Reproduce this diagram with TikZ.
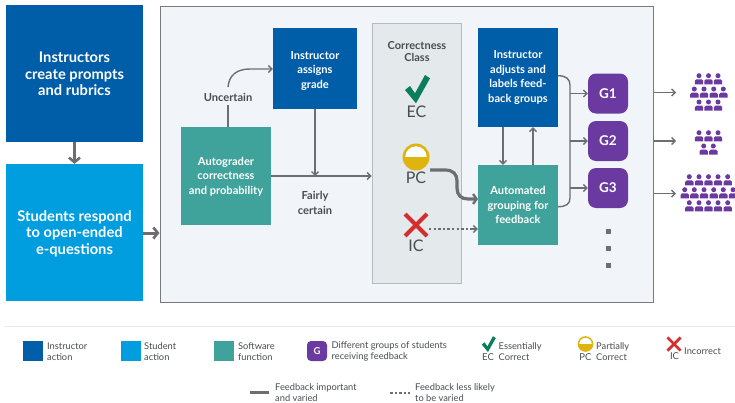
\documentclass[tikz,border=0pt]{standalone}
\usepackage{fontspec}
\setmainfont{Lato}
\usetikzlibrary{arrows.meta,calc}
\definecolor{instr}{HTML}{005EA8}
\definecolor{stud}{HTML}{009DDF}
\definecolor{soft}{HTML}{3FA39B}
\definecolor{grp}{HTML}{6A3AA0}
\definecolor{conn}{HTML}{6D6E71}
\definecolor{txt}{HTML}{4A4D50}
\definecolor{panelfill}{HTML}{F1F5F9}
\definecolor{panelline}{HTML}{77797B}
\definecolor{classfill}{HTML}{E4E9EC}
\definecolor{classline}{HTML}{B4BBBD}
\definecolor{okgreen}{HTML}{0A7D5C}
\definecolor{badred}{HTML}{D42F2F}
\definecolor{partyellow}{HTML}{E0B40E}
\newcommand{\lowerlines}[2]{\raisebox{-#1pt}[0pt][0pt]{\begin{tabular}{@{}c@{}}#2\end{tabular}}}
\tikzset{
  x=1pt,y=-1pt,
  box/.style={inner sep=0pt,align=center,text=white,font=\bfseries\fontsize{11.1}{14.6}\selectfont},
  bigbox/.style={box,minimum width=137pt,minimum height=137pt,font=\bfseries\fontsize{14.7}{16.8}\selectfont},
  groupbox/.style={inner sep=0pt,fill=grp,text=white,rounded corners=8pt,minimum width=40pt,minimum height=40pt,font=\bfseries\fontsize{13.5}{16}\selectfont},
  flow/.style={draw=conn,line width=1.4pt,-{Straight Barb[length=3.5pt,width=7pt,line width=1.4pt]}},
  plain/.style={draw=conn,line width=1.4pt},
  heavy/.style={draw=conn,line width=3pt,-{Straight Barb[length=4.5pt,width=11pt,line width=2.6pt]}},
  dots/.style={draw=conn,line width=1.6pt,dash pattern=on 2.4pt off 2.2pt},
  lbl/.style={inner sep=0pt,align=center,text=txt,font=\bfseries\fontsize{11.1}{14.6}\selectfont},
  cls/.style={inner sep=0pt,text=txt,font=\fontsize{16}{17}\selectfont},
  leg/.style={inner sep=0pt,align=left,anchor=west,text=txt,font=\fontsize{9.3}{10.6}\selectfont},
  legclass/.style={inner sep=0pt,text=txt,font=\fontsize{9.5}{10.6}\selectfont},
  swatch/.style={inner sep=0pt,minimum width=20pt,minimum height=20pt},
  person/.pic={
    \fill[grp] (0,0) circle (2.5);
    \fill[grp] (-4.2,8.6) [rounded corners=1.6pt] -- (-4.2,3.6) -- (4.2,3.6) [sharp corners] -- (4.2,8.6) -- cycle;
  },
  checksym/.pic={
    \fill[okgreen] (-12,1) -- (-7,-3) -- (-2,4.3) -- (8,-14) -- (13,-10.7) -- (-1,14.3) -- cycle;
  },
  partsym/.pic={
    \fill[partyellow] (0,0) circle (13.5);
    \begin{scope}
      \clip (-14,-14) rectangle (14,-0.5);
      \fill[white] (0,0) circle (10.7);
    \end{scope}
  },
  crosssym/.pic={
    \draw[badred,line cap=butt] (-11,-11) -- (11,11) (11,-11) -- (-11,11);
  },
}
\begin{document}
\begin{tikzpicture}
\useasboundingbox (0,0) rectangle (735,402);
\fill[white] (0,0) rectangle (735,402);

% left boxes
\node[bigbox,fill=instr] (prompts) at (74.5,73.5) {\lowerlines{6.2}{Instructors\\[-0.3pt]create prompts\\[-0.3pt]and rubrics}};
\node[bigbox,fill=stud] (respond) at (74.5,232.5) {\lowerlines{5.6}{Students respond\\[-0.3pt]to open-ended\\[-0.3pt]e-questions}};

% panel
\node[draw=panelline,fill=panelfill,line width=1pt,minimum width=493pt,minimum height=296pt,inner sep=0pt] (panel) at (406.5,154) {};
\node[draw=classline,fill=classfill,line width=1pt,minimum width=89pt,minimum height=260pt,inner sep=0pt] (class) at (416.5,153) {};

% panel boxes
\node[box,fill=soft,minimum width=90pt,minimum height=98pt] (auto) at (226,176) {\lowerlines{3.8}{Autograder\\[-0.2pt]correctness\\[-0.2pt]and probability}};
\node[box,fill=instr,minimum width=84pt,minimum height=81pt] (assign) at (315,68.5) {\lowerlines{5.3}{Instructor\\[-0.2pt]assigns\\[-0.2pt]grade}};
\node[box,fill=instr,minimum width=80pt,minimum height=99pt] (adjust) at (518,77.5) {Instructor\\adjusts and\\labels feed-\\back groups};
\node[box,fill=soft,minimum width=80pt,minimum height=80pt] (autogroup) at (518,205) {Automated\\grouping for\\feedback};
\node[lbl] (uncertain) at (228,97.5) {Uncertain};
\node[lbl] (fairly) at (315,203) {Fairly\\certain};

% correctness class
\node[lbl,font=\bfseries\fontsize{11}{12}\selectfont] (classtitle) at (417,52) {Correctness\\Class};
\pic at (417,89) {checksym};
\node[cls] (ec) at (416.5,112) {EC};
\pic at (416,157) {partsym};
\node[cls] (pc) at (416,178) {PC};
\pic[line width=4pt] at (416,225) {crosssym};
\node[cls] (ic) at (416,246) {IC};

% groups
\node[groupbox] (g1) at (608,93.5) {G1};
\node[groupbox] (g2) at (608,141) {G2};
\node[groupbox] (g3) at (608,188) {G3};
\foreach \yy in {231,248,265} \fill[conn] (605.5,\yy-2.5) rectangle (610.5,\yy+2.5);

% connectors
\draw[heavy] (prompts) -- (respond);
\coordinate (feed) at (143,233);
\draw[heavy] (feed) -- (panel.west |- feed);
\coordinate (fcenter) at (315,176);
\draw[flow] (auto.east |- fcenter) -- (class.west |- fcenter);
\draw[flow] (assign.south) -- (fcenter);
\coordinate (uout) at (228,87);
\draw[plain] (auto.north -| uncertain) -- ($(uncertain.south)+(0,3)$);
\draw[flow] (uout) .. controls (229,75) and (237,69) .. (250,69) -- (assign.west |- 0,69);
\draw[flow] (adjust.south -| 503,0) -- (autogroup.north -| 503,0);
\draw[flow] (autogroup.north -| 533,0) -- (adjust.south -| 533,0);
\coordinate (pcout) at (430,170);
\coordinate (pcin) at (478,199);
\draw[draw=conn,line width=3.2pt,-{Straight Barb[length=3.5pt,width=10pt,line width=2.4pt]}] (pcout) -- (445,170) .. controls (453,170) and (457,174) .. (457,181) -- (457,188) .. controls (457,195) and (461,199) .. (468,199) -- (pcin);
\coordinate (icout) at (429,229);
\draw[dots] (icout) -- (474,229);
\draw[flow] (472,229) -- (autogroup.west |- icout);
\coordinate (btop) at (558,75.7);
\coordinate (bbot) at (558,206.7);
\draw[plain] (btop) .. controls (566,75.7) and (570,79) .. (570,85) -- (570,198) .. controls (570,204) and (566,206.7) .. (bbot);
\foreach \g in {g1,g2,g3} \draw[flow] (570,0 |- \g.west) -- (\g.west);

% people
\coordinate (p1) at (676,92.5);
\coordinate (p2) at (676,141);
\coordinate (p3) at (676,193.7);
\draw[flow] (panel.east |- p1) -- (p1);
\draw[flow] (panel.east |- p2) -- (p2);
\draw[flow] (panel.east |- p3) -- (p3);
\foreach \xx in {699,708.5,718} { \pic at (\xx,75.7) {person}; \pic at (\xx,102) {person}; \pic at (\xx,132.7) {person}; }
\foreach \xx in {694.3,704,713.7,723.3} \pic at (\xx,89) {person};
\foreach \xx in {703.7,713.3} \pic at (\xx,146) {person};
\foreach \xx in {689.3,699,708.5,718,727.7} { \pic at (\xx,176.7) {person}; \pic at (\xx,202.7) {person}; }
\foreach \xx in {684.7,694.3,704,713.7,723.3,733} \pic at (\xx,189.7) {person};

% legend
\coordinate (ruleL) at (4,326.5);
\coordinate (ruleR) at (735,326.5);
\draw[draw=classfill,line width=1pt] (ruleL) -- (ruleR);
\node[swatch,fill=instr] (s1) at (33,351) {};
\node[leg] (t1) at (47,351.5) {Instructor\\action};
\node[swatch,fill=stud] (s2) at (130.5,351) {};
\node[leg] (t2) at (144,351.5) {Student\\action};
\node[swatch,fill=soft] (s3) at (224,351) {};
\node[leg] (t3) at (238,351.5) {Software\\function};
\node[swatch,fill=grp,rounded corners=4pt,text=white,font=\bfseries\fontsize{9.5}{10}\selectfont] (s4) at (317,351) {G};
\node[leg] (t4) at (331.5,351.5) {Different groups of students\\receiving feedback};
\pic[scale=0.56] at (488.5,344) {checksym};
\node[legclass] (lec) at (488,357) {EC};
\node[leg] (t5) at (498.5,351.5) {Essentially\\Correct};
\pic[scale=0.58] at (585.5,344) {partsym};
\node[legclass] (lpc) at (585.5,357) {PC};
\node[leg] (t6) at (596,351.5) {Partially\\Correct};
\pic[scale=0.6,line width=2.8pt] at (674,344) {crosssym};
\node[legclass] (lic) at (674.5,356.5) {IC};
\node[leg] (t7) at (684,351) {Incorrect};
\node[leg,font=\fontsize{9.3}{10.3}\selectfont] (t8) at (275,392.6) {Feedback important\\and varied};
\node[leg,font=\fontsize{9.3}{10.3}\selectfont] (t9) at (415,392.6) {Feedback less likely\\to be varied};
\coordinate (l1a) at (250,392.5);
\coordinate (l2a) at (390,392.7);
\draw[conn,line width=2.4pt] (l1a) -- (269,392.5);
\draw[conn,line width=1.6pt,dash pattern=on 2.6pt off 1.9pt] (l2a) -- (410,392.7);
\end{tikzpicture}
\end{document}
